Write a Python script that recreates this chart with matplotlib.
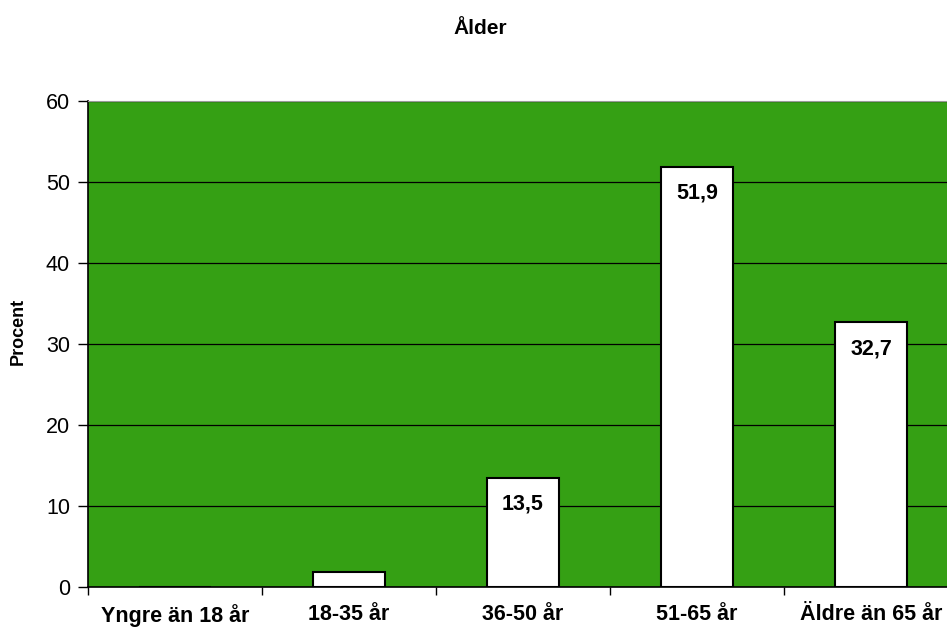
import numpy as np
import matplotlib.pyplot as plt

plt.rcParams['font.family'] = ['Liberation Sans', 'DejaVu Sans']

categories = ['Yngre än 18 år', '18-35 år', '36-50 år', '51-65 år', 'Äldre än 65 år']
values = [0.0, 1.9, 13.5, 51.9, 32.7]
labels = ['', '', '13,5', '51,9', '32,7']

fig = plt.figure(figsize=(9.47, 6.29), dpi=100)
# plot area runs past the right edge, as in the original
ax = fig.add_axes([88 / 947, 1 - 587 / 629, 870 / 947, 486 / 629])

x = np.arange(len(categories))
ax.set_facecolor('#35a014')
bars = ax.bar(x, values, width=0.41, color='white', edgecolor='black', linewidth=1.5, zorder=3)

for xi, v, lab in zip(x, values, labels):
    if lab:
        ax.text(xi, v - 2.0, lab, ha='center', va='top', fontsize=15.5, fontweight='bold', zorder=4)

ax.set_xlim(-0.5, len(categories) - 0.5)
ax.set_ylim(0, 60)
ax.set_yticks(np.arange(0, 61, 10))
ax.tick_params(axis='y', labelsize=15.5, length=7, width=1, pad=6)
ax.set_xticks(np.arange(-0.5, len(categories), 1), minor=False)
ax.set_xticklabels([])
ax.set_xticks(x, minor=True)
ax.set_xticklabels(categories, minor=True, fontsize=15.5, fontweight='bold')
ax.tick_params(axis='x', which='major', length=6, width=1, direction='out')
ax.tick_params(axis='x', which='minor', length=0, pad=12)

ax.grid(axis='y', color='black', linewidth=0.9, zorder=1)
ax.spines['top'].set_color('#999999')
ax.spines['right'].set_visible(False)
ax.spines['left'].set_linewidth(1.2)
ax.spines['bottom'].set_linewidth(1.2)

ax.set_ylabel('Procent', fontsize=13, fontweight='bold')
ax.yaxis.set_label_coords(-0.070, 0.525)
fig.text(480 / 947, 1 - 28 / 629, 'Ålder', ha='center', va='center', fontsize=15, fontweight='bold')

fig.savefig('out.png', dpi=100)
